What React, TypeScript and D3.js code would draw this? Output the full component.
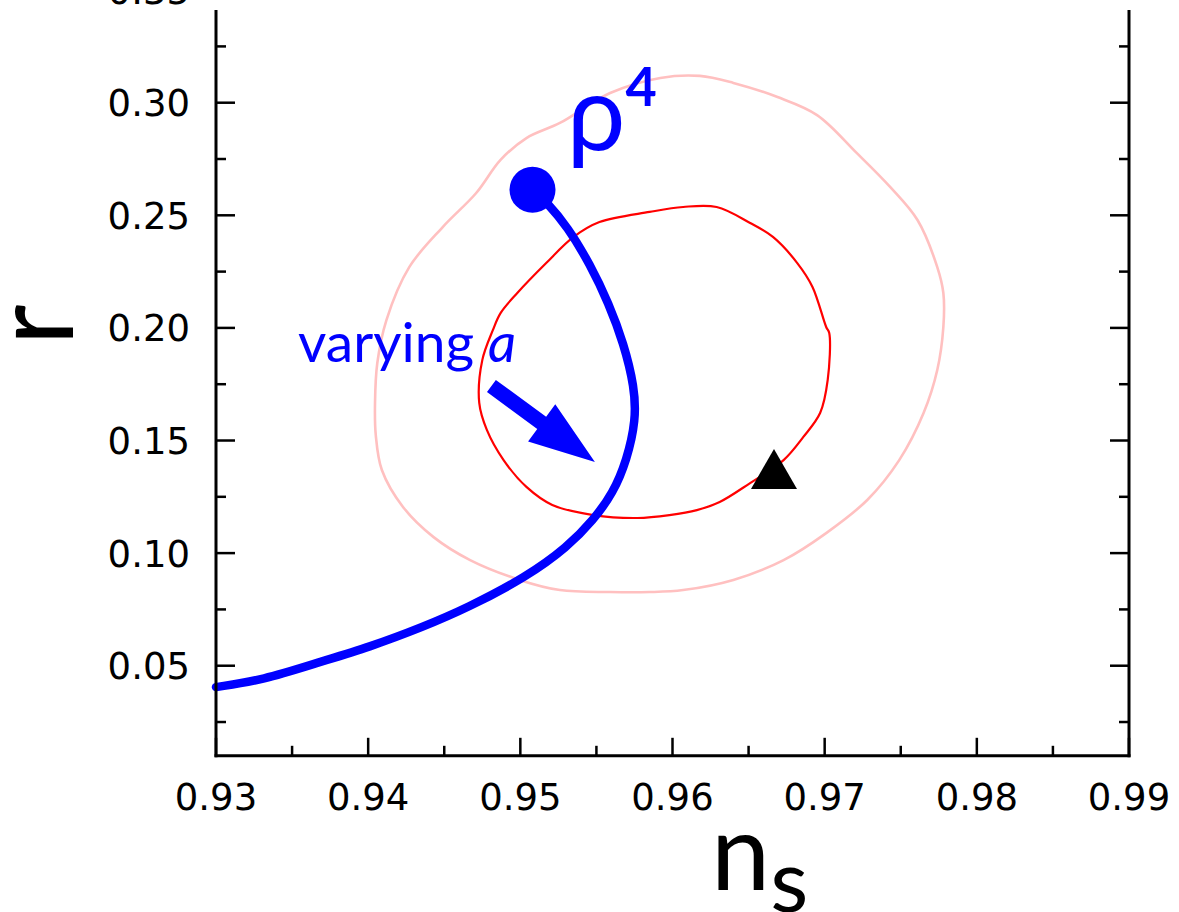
import React from 'react';
import * as d3 from 'd3';

// n_s / r data
const nsTicks = [0.93, 0.94, 0.95, 0.96, 0.97, 0.98, 0.99];
const nsMinor = [0.935, 0.945, 0.955, 0.965, 0.975, 0.985];
const rTicks = [0.05, 0.1, 0.15, 0.2, 0.25, 0.3, 0.35];
const rMinor = [0.025, 0.075, 0.125, 0.175, 0.225, 0.275, 0.325];

// rho^4 model curve while a varies
const curveNs = [0.93, 0.9331, 0.9366, 0.9401, 0.9436, 0.9465, 0.9504, 0.9531, 0.9548, 0.9561, 0.957, 0.9576, 0.9575, 0.9568, 0.9558, 0.9546, 0.9531, 0.9517, 0.9508];
const curveR = [0.0405, 0.0437, 0.0512, 0.0583, 0.0672, 0.0756, 0.0894, 0.1027, 0.1147, 0.1267, 0.1413, 0.1591, 0.1738, 0.1930, 0.2110, 0.2280, 0.2450, 0.2560, 0.2618];

// 68% contour
const c1Ns = [0.9473, 0.9475, 0.9482, 0.9487, 0.9498, 0.9517, 0.9535, 0.9552, 0.9585, 0.9607, 0.9629, 0.9651, 0.9666, 0.9682, 0.9692, 0.9701, 0.9703, 0.9702, 0.9697, 0.9686, 0.9673, 0.9651, 0.9631, 0.9616, 0.9598, 0.9577, 0.9548, 0.9521, 0.9504, 0.9489, 0.9478];
const c1R = [0.1667, 0.1857, 0.1991, 0.2066, 0.2155, 0.2288, 0.2404, 0.247, 0.2515, 0.2537, 0.2537, 0.2466, 0.2404, 0.2288, 0.2182, 0.2004, 0.1977, 0.1769, 0.1622, 0.1516, 0.1413, 0.1311, 0.1227, 0.1191, 0.1169, 0.1156, 0.1169, 0.1214, 0.1294, 0.1413, 0.1547];

// 95% contour
const c2Ns = [0.94045, 0.9406, 0.9412, 0.9427, 0.9449, 0.9471, 0.9487, 0.9504, 0.9526, 0.9559, 0.9592, 0.9618, 0.964, 0.9669, 0.9695, 0.9721, 0.9743, 0.9761, 0.9774, 0.9778, 0.9778, 0.9774, 0.9765, 0.9749, 0.9728, 0.9701, 0.9673, 0.964, 0.9607, 0.9585, 0.9559, 0.9526, 0.95, 0.9467, 0.9443, 0.9423, 0.9409, 0.9405];
const c2R = [0.1667, 0.1844, 0.2035, 0.227, 0.2448, 0.2599, 0.2746, 0.2843, 0.291, 0.3043, 0.311, 0.3119, 0.3088, 0.3025, 0.2945, 0.2777, 0.2626, 0.2479, 0.227, 0.2155, 0.2004, 0.1813, 0.1622, 0.1413, 0.1236, 0.1089, 0.0969, 0.0881, 0.0836, 0.0827, 0.0827, 0.0836, 0.088, 0.0969, 0.1071, 0.1204, 0.1369, 0.1524];

const startPoint = [0.9508, 0.2613];
const trianglePoint = [0.96667, 0.1347];
const arrowFrom = [0.9481, 0.1742];
const arrowTo = [0.9549, 0.1405];

const BLUE = '#0000ff';

export default function App() {
  const width = 1179;
  const height = 912;
  const x = d3.scaleLinear().domain([0.93, 0.99]).range([216, 1129]);
  const y = d3.scaleLinear().domain([0.01, 0.35]).range([755.8, -9.9]);
  const top = 10;
  const bottom = y(0.01);

  const line = d3.line<number>()
    .x((_, i) => x(curveNs[i]))
    .y((_, i) => y(curveR[i]))
    .curve(d3.curveBasis);

  const closed = (ns: number[], rs: number[]) =>
    d3.line<number>()
      .x((_, i) => x(ns[i]))
      .y((_, i) => y(rs[i]))
      .curve(d3.curveCatmullRomClosed)(ns);

  // arrow polygon
  const ax0 = x(arrowFrom[0]), ay0 = y(arrowFrom[1]);
  const ax1 = x(arrowTo[0]), ay1 = y(arrowTo[1]);
  const len = Math.hypot(ax1 - ax0, ay1 - ay0);
  const ux = (ax1 - ax0) / len, uy = (ay1 - ay0) / len;
  const px = -uy, py = ux;
  const shaftW = 7.5, headW = 23, headL = 66;
  const bx = ax1 - ux * headL, by = ay1 - uy * headL;
  const arrowPts = [
    [ax0 + px * shaftW, ay0 + py * shaftW],
    [bx + px * shaftW, by + py * shaftW],
    [bx + px * headW, by + py * headW],
    [ax1, ay1],
    [bx - px * headW, by - py * headW],
    [bx - px * shaftW, by - py * shaftW],
    [ax0 - px * shaftW, ay0 - py * shaftW],
  ].map(p => p.join(',')).join(' ');

  const tx = x(trianglePoint[0]), ty = y(trianglePoint[1]);
  const tri = `${tx},${ty - 26} ${tx + 23},${ty + 14} ${tx - 23},${ty + 14}`;

  return (
    <svg width={width} height={height} style={{ position: 'absolute', left: 0, top: 0, display: 'block', background: '#fff' }}>
      {/* contours */}
      <path d={closed(c2Ns, c2R) || ''} fill="none" stroke="#ffc0c0" strokeWidth={2.6} />
      <path d={closed(c1Ns, c1R) || ''} fill="none" stroke="#ff0000" strokeWidth={2.2} />

      {/* model curve */}
      <path d={line(curveNs) || ''} fill="none" stroke={BLUE} strokeWidth={8.5} strokeLinecap="round" />
      <circle cx={x(startPoint[0])} cy={y(startPoint[1])} r={23} fill={BLUE} />
      <polygon points={tri} fill="#000" />
      <polygon points={arrowPts} fill={BLUE} />

      {/* annotations */}
      <text x={x(0.95306)} y={y(0.279)} fill={BLUE} fontFamily="Lato, 'Open Sans', sans-serif" fontSize={104}>
        ρ
        <tspan fontWeight="bold" fontSize={54} dy={-44}>4</tspan>
      </text>
      <text x={x(0.93539)} y={y(0.1849)} fill={BLUE} fontFamily="Lato, 'Open Sans', sans-serif" fontSize={55}>
        varying <tspan fontStyle="italic">a</tspan>
      </text>

      {/* frame */}
      <g stroke="#000" fill="none">
        <line x1={216} y1={top} x2={216} y2={bottom + 1.5} strokeWidth={3} />
        <line x1={1129} y1={top} x2={1129} y2={bottom + 1.5} strokeWidth={3} />
        <line x1={214.5} y1={bottom} x2={1130.5} y2={bottom} strokeWidth={3} />
        {nsTicks.map(t => (
          <line key={'xt' + t} x1={x(t)} x2={x(t)} y1={bottom} y2={bottom - 18} strokeWidth={2.5} />
        ))}
        {nsMinor.map(t => (
          <line key={'xm' + t} x1={x(t)} x2={x(t)} y1={bottom} y2={bottom - 10} strokeWidth={2.5} />
        ))}
        {rTicks.filter(t => y(t) > top).map(t => (
          <g key={'yt' + t}>
            <line x1={216} x2={235} y1={y(t)} y2={y(t)} strokeWidth={2.5} />
            <line x1={1129} x2={1110} y1={y(t)} y2={y(t)} strokeWidth={2.5} />
          </g>
        ))}
        {rMinor.map(t => (
          <g key={'ym' + t}>
            <line x1={216} x2={226} y1={y(t)} y2={y(t)} strokeWidth={2.5} />
            <line x1={1129} x2={1119} y1={y(t)} y2={y(t)} strokeWidth={2.5} />
          </g>
        ))}
      </g>

      {/* tick labels */}
      <g fontFamily="'DejaVu Sans', sans-serif" fontSize={37} fill="#000">
        {nsTicks.map(t => (
          <text key={'xl' + t} x={x(t)} y={810} textAnchor="middle">{d3.format('.2f')(t)}</text>
        ))}
        {rTicks.map(t => (
          <text key={'yl' + t} x={190} y={y(t) + 13.5} textAnchor="end">{d3.format('.2f')(t)}</text>
        ))}
      </g>

      {/* axis titles */}
      <text x={711} y={890} fontFamily="Lato, 'Open Sans', sans-serif" fontSize={106} fill="#000">
        n<tspan fontSize={88} dy={22}>s</tspan>
      </text>
      <text transform="translate(73,325) rotate(-90)" textAnchor="middle" fontFamily="Lato, 'Open Sans', sans-serif" fontSize={113} fill="#000">r</text>
    </svg>
  );
}
